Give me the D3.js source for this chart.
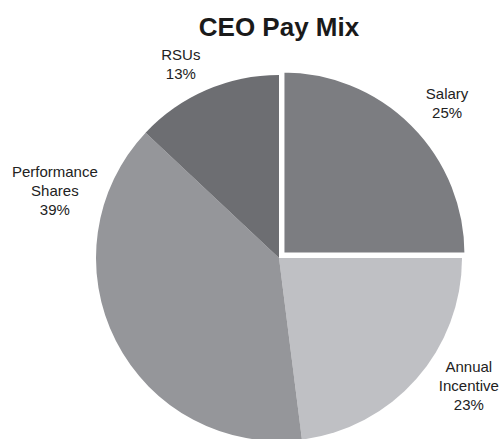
<!DOCTYPE html>
<html lang="en">
<head>
<meta charset="UTF-8">
<title>CEO Pay Mix</title>
<style>
  body { margin: 0; background: #fff; }
  svg { display: block; font-family: "Liberation Sans", Arial, sans-serif; }
</style>
</head>
<body>
<script src="https://cdn.jsdelivr.net/npm/d3@7"></script>
<script>
// data
const categories = ["Salary", "Annual\nIncentive", "Performance\nShares", "RSUs"];
const shares = [25, 23, 39, 13];
const sliceColors = ["#7c7d81", "#bfc0c4", "#95969a", "#6d6e72"];

const width = 503, height = 439;
const cx = 279, cy = 258, radius = 183;

// label placement (angle in degrees clockwise from 12 o'clock, distance from centre)
const labelAngle = [47.5, 124, 286.7, 333.1];
const labelDist = [228, 229, 234, 217];
const explode = [5.6, 0, 0, 0];

const data = categories.map((c, i) => ({ name: c, value: shares[i], color: sliceColors[i], i }));

const svg = d3.create("svg")
    .attr("width", width)
    .attr("height", height)
    .attr("viewBox", [0, 0, width, height]);

svg.append("text")
    .attr("x", 279)
    .attr("y", 36)
    .attr("text-anchor", "middle")
    .attr("font-size", 26)
    .attr("font-weight", "bold")
    .attr("fill", "#1a1a1a")
    .text("CEO Pay Mix");

const pie = d3.pie().sort(null).value(d => d.value);
const arc = d3.arc().innerRadius(0).outerRadius(radius);
const arcs = pie(data);

const g = svg.append("g").attr("transform", `translate(${cx},${cy})`);

g.selectAll("path")
  .data(arcs)
  .join("path")
    .attr("d", arc)
    .attr("fill", d => d.data.color)
    .attr("stroke", d => explode[d.data.i] > 0 ? "#fff" : "none")
    .attr("stroke-width", 3)
    .attr("transform", d => {
      const a = (d.startAngle + d.endAngle) / 2;
      const e = explode[d.data.i];
      return `translate(${e * Math.sin(a)},${-e * Math.cos(a)})`;
    });

// salary on top so its white border shows
g.selectAll("path").filter(d => explode[d.data.i] > 0).raise();

const lineH = 19;
const labels = g.selectAll("text.lbl")
  .data(arcs)
  .join("text")
    .attr("class", "lbl")
    .attr("text-anchor", "middle")
    .attr("font-size", 15)
    .attr("fill", "#222");

labels.each(function(d) {
  const i = d.data.i;
  const a = labelAngle[i] * Math.PI / 180;
  const x = labelDist[i] * Math.sin(a);
  const y = -labelDist[i] * Math.cos(a);
  const lines = d.data.name.split("\n").concat([d.data.value + "%"]);
  const y0 = y - (lines.length - 1) * lineH / 2 + 5;
  d3.select(this).selectAll("tspan")
    .data(lines)
    .join("tspan")
      .attr("x", x)
      .attr("y", (t, k) => y0 + k * lineH)
      .text(t => t);
});

document.querySelector("body").appendChild(svg.node());
</script>
</body>
</html>
